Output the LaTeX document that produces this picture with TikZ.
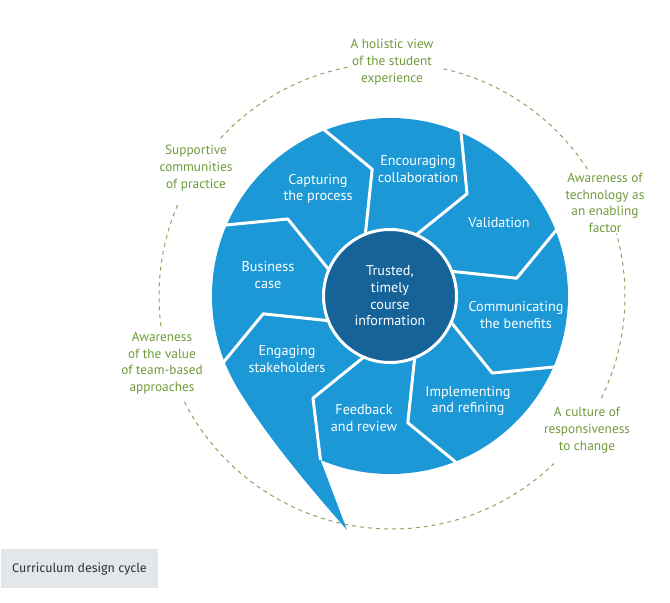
\documentclass[tikz,border=0pt]{standalone}
\usepackage{fontspec}
\setmainfont{PT Sans}
\newfontfamily\capfont{Fira Sans}
\definecolor{discblue}{HTML}{1B98D5}
\definecolor{coreblue}{HTML}{16639A}
\definecolor{leafgreen}{HTML}{6F9A3B}
\definecolor{dashgreen}{HTML}{8DA35E}
\definecolor{boxgray}{HTML}{E3E7EA}
\definecolor{capgray}{HTML}{333333}
\tikzset{
  seglabel/.style={text=white, align=center, inner sep=0pt, font=\fontsize{14.2}{16.7}\selectfont},
  outlabel/.style={text=leafgreen, align=center, inner sep=0pt, font=\fontsize{13.3}{16.7}\selectfont},
  sepline/.style={draw=white, line width=3pt, line join=round},
  dashline/.style={draw=dashgreen, line width=1pt, dash pattern=on 4pt off 4pt},
  corecircle/.style={circle, fill=coreblue, draw=white, line width=3pt, minimum size=133pt, inner sep=0pt, text=white, align=center, font=\fontsize{14.2}{16.7}\selectfont},
  capbox/.style={fill=boxgray, minimum width=157pt, minimum height=39pt, inner sep=0pt, text=capgray, font=\capfont\fontsize{12.5}{15}\selectfont}
}
\begin{document}
\begin{tikzpicture}[x=1pt,y=1pt]
\useasboundingbox (0,0) rectangle (670,603);
\coordinate (C) at (390,307);
\coordinate (D) at (392,307);
% dashed ring with gaps for the labels
\begin{scope}[shift={(D)}]
\draw[dashline] (33:233) arc[start angle=33, end angle=78, radius=233];
\draw[dashline] (101:233) arc[start angle=101, end angle=138, radius=233];
\draw[dashline] (157:233) arc[start angle=157, end angle=188, radius=233];
\draw[dashline] (207:233) arc[start angle=207, end angle=314, radius=233];
\draw[dashline] (334:233) arc[start angle=334, end angle=375.6, radius=233];
\end{scope}
% disc and tail
\fill[discblue] (C) circle (178);
\begin{scope}[shift={(C)}]
\coordinate (tailA) at (-150:178);
\coordinate (tailQ) at (-113:178);
\end{scope}
\coordinate (tip) at (347,73);
\fill[discblue] (tailA) .. controls (266,166) and (318,106) .. (tip) -- (tailQ) -- (C) -- cycle;
% separators
\begin{scope}[shift={(C)}]
\foreach \t [evaluate=\t as \k using \t-14] in {112,67,22,-23,-68,-158,157}
  \draw[sepline] (\t:66) -- (\k:128) -- (\t:181);
\draw[sepline] (-113:66) -- (-127:128) -- (-113:178);
\end{scope}
% core
\node[corecircle] (core) at (C) {Trusted,\\timely\\course\\information};
% segment labels
\node[seglabel] (capturing) at (318,414) {Capturing\\the process};
\node[seglabel] (encouraging) at (418,434) {Encouraging\\collaboration};
\node[seglabel] (validation) at (499,380) {Validation};
\node[seglabel] (communicating) at (516,288) {Communicating\\the benefits};
\node[seglabel] (implementing) at (468,202) {Implementing\\and refining};
\node[seglabel] (feedback) at (364,185) {Feedback\\and review};
\node[seglabel] (engaging) at (287,244) {Engaging\\stakeholders};
\node[seglabel] (business) at (268,328) {Business\\case};
% outer labels
\node[outlabel] (holistic) at (392,541) {A holistic view\\of the student\\experience};
\node[outlabel] (technology) at (605,400) {Awareness of\\technology as\\an enabling\\factor};
\node[outlabel] (culture) at (587,173) {A culture of\\responsiveness\\to change};
\node[outlabel] (team) at (162,240) {Awareness\\of the value\\of team-based\\approaches};
\node[outlabel] (supportive) at (196,435) {Supportive\\communities\\of practice};
% caption
\node[capbox] (caption) at (79.5,34.5) {Curriculum design cycle};
\end{tikzpicture}
\end{document}
